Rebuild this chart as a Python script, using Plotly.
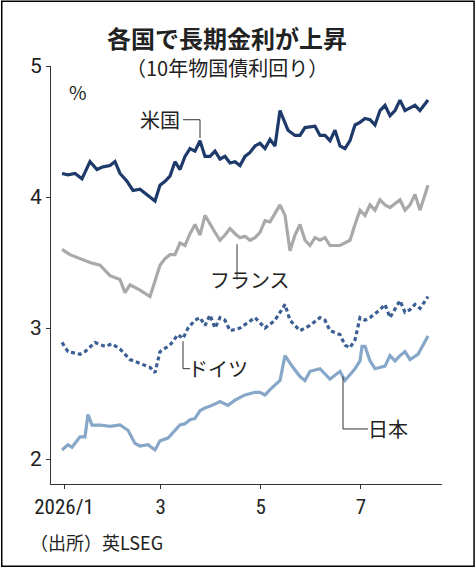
import plotly.graph_objects as go
import pandas as pd

# readings: horizontal position (chart px, 64 = 2026/1/1, ~1.64 px/day) and yield %
us_px = [62,68,75,82,90,97,103,110,115,120,127,133,140,147,152,155,160,165,170,175,180,185,190,195,200,205,210,215,220,225,230,235,240,245,250,255,260,265,270,275,280,283,288,295,300,305,315,320,325,330,335,340,345,350,355,360,365,370,375,380,385,390,395,400,405,410,415,420,428]
us_val = [4.18,4.17,4.18,4.14,4.27,4.21,4.23,4.24,4.27,4.18,4.12,4.05,4.06,4.02,3.99,3.97,4.09,4.12,4.16,4.27,4.21,4.31,4.37,4.35,4.43,4.31,4.31,4.35,4.29,4.31,4.26,4.27,4.24,4.31,4.34,4.39,4.41,4.37,4.44,4.39,4.66,4.60,4.51,4.47,4.47,4.53,4.54,4.47,4.47,4.43,4.51,4.39,4.37,4.43,4.55,4.57,4.60,4.59,4.55,4.66,4.70,4.62,4.66,4.74,4.66,4.68,4.70,4.66,4.74]

fr_px = [62,70,80,90,100,110,120,125,130,140,150,155,160,165,170,175,180,185,190,195,200,205,210,215,220,225,230,235,240,245,250,255,260,265,270,280,285,290,295,300,305,310,315,320,325,330,340,350,355,360,365,370,375,380,385,390,400,405,410,415,420,428]
fr_val = [3.60,3.56,3.53,3.50,3.48,3.40,3.37,3.27,3.33,3.29,3.24,3.37,3.48,3.53,3.56,3.56,3.65,3.63,3.72,3.79,3.71,3.86,3.79,3.73,3.67,3.71,3.76,3.72,3.69,3.70,3.67,3.69,3.73,3.82,3.81,3.94,3.86,3.59,3.71,3.79,3.67,3.63,3.69,3.67,3.69,3.63,3.63,3.67,3.79,3.90,3.86,3.94,3.90,3.98,3.94,3.92,3.98,3.90,3.94,4.02,3.90,4.09]

de_px = [62,68,80,85,95,105,112,120,130,140,150,155,160,170,178,183,188,195,200,205,210,215,220,225,230,240,255,265,275,285,290,300,310,320,325,330,340,345,350,355,360,365,370,380,385,390,395,400,405,410,415,420,428]
de_val = [2.89,2.82,2.80,2.82,2.89,2.86,2.88,2.84,2.76,2.73,2.70,2.66,2.82,2.87,2.95,2.92,3.00,3.06,3.08,3.02,3.10,3.00,3.08,3.06,2.98,3.00,3.08,3.00,3.06,3.18,3.06,2.98,3.02,3.08,3.06,2.98,2.95,2.87,2.85,2.91,3.08,3.06,3.08,3.14,3.18,3.08,3.15,3.21,3.12,3.14,3.18,3.15,3.24]

jp_px = [62,68,72,80,85,88,92,100,110,120,128,135,140,148,155,160,168,175,180,185,190,195,200,205,212,220,228,235,245,255,260,265,270,280,285,292,300,305,310,320,330,340,345,355,360,362,365,370,375,385,390,395,400,405,410,418,425,428]
jp_val = [2.07,2.11,2.09,2.17,2.17,2.34,2.26,2.26,2.25,2.26,2.22,2.12,2.10,2.11,2.07,2.14,2.16,2.22,2.26,2.27,2.30,2.31,2.37,2.39,2.41,2.44,2.41,2.45,2.49,2.51,2.51,2.49,2.53,2.60,2.79,2.71,2.63,2.60,2.67,2.69,2.61,2.67,2.60,2.69,2.75,2.86,2.86,2.75,2.69,2.71,2.79,2.75,2.79,2.82,2.76,2.80,2.90,2.94]

x_ticks = ["2026-01-01", "2026-03-01", "2026-05-01", "2026-07-01"]
x_ticktext = ["2026/1", "3", "5", "7"]
y_ticks = [2, 3, 4, 5]

start = pd.Timestamp("2026-01-01")
def to_dates(px):
    return [start + pd.Timedelta(days=(p - 64) / 1.64) for p in px]

def d(day):
    return start + pd.Timedelta(days=day)

FONT = "Noto Sans CJK JP"
fig = go.Figure()
fig.add_trace(go.Scatter(x=to_dates(jp_px), y=jp_val, mode="lines",
                         line=dict(color="#87a7c9", width=3.2)))
fig.add_trace(go.Scatter(x=to_dates(de_px), y=de_val, mode="lines",
                         line=dict(color="#3b5f93", width=3.2, dash="4px,3px")))
fig.add_trace(go.Scatter(x=to_dates(fr_px), y=fr_val, mode="lines",
                         line=dict(color="#a9a9a9", width=3.2)))
fig.add_trace(go.Scatter(x=to_dates(us_px), y=us_val, mode="lines",
                         line=dict(color="#1e3a6a", width=3.2)))

def px2day(p):
    return (p - 64) / 1.64

lc = dict(color="#333", width=1)
shapes = []
def seg(x0, y0, x1, y1):
    shapes.append(dict(type="line", xref="x", yref="y", x0=d(px2day(x0)), y0=y0,
                       x1=d(px2day(x1)), y1=y1, line=lc))
# leader lines
seg(183, 4.59, 200, 4.59); seg(200, 4.59, 200, 4.45)
seg(237, 3.37, 237, 3.64)
seg(183, 2.90, 183, 2.69); seg(183, 2.69, 190, 2.69)
seg(343, 2.63, 343, 2.23); seg(343, 2.23, 368, 2.23)
# border
shapes.append(dict(type="rect", xref="paper", yref="paper", x0=-0.126, x1=1.082,
                   y0=-0.197, y1=1.155, line=dict(color="black", width=1.5)))
fig.update_layout(shapes=shapes)

def ann(px, val, text, anchor="left", size=20):
    fig.add_annotation(x=d(px2day(px)), y=val, text=text, showarrow=False,
                       xanchor=anchor, font=dict(size=size, color="#222", family=FONT))
ann(182, 4.59, "米国", "right")
ann(208, 3.37, "フランス", "left")
ann(186, 2.69, "ドイツ", "left")
ann(366, 2.23, "日本", "left")

fig.add_annotation(xref="paper", yref="paper", x=0.04, y=0.975, text="%", showarrow=False,
                   xanchor="left", font=dict(size=19, color="#222", family=FONT))
fig.add_annotation(xref="paper", yref="paper", x=0.45, y=1.115, text="<b>各国で長期金利が上昇</b>",
                   showarrow=False, font=dict(size=24, color="#222", family=FONT))
fig.add_annotation(xref="paper", yref="paper", x=0.45, y=1.035, text="（10年物国債利回り）",
                   showarrow=False, font=dict(size=20, color="#222", family=FONT))
fig.add_annotation(xref="paper", yref="paper", x=-0.06, y=-0.175, text="（出所）英LSEG",
                   showarrow=False, xanchor="left", font=dict(size=18, color="#222", family=FONT))

fig.update_layout(
    width=476, height=568, margin=dict(l=51, r=34, t=66, b=84),
    paper_bgcolor="white", plot_bgcolor="white", showlegend=False,
    font=dict(family=FONT, color="#222"),
    xaxis=dict(type="date", range=[d(px2day(51)), d(px2day(442))], tickvals=x_ticks,
               ticktext=x_ticktext, showgrid=False, zeroline=False, showline=True,
               linecolor="#333", linewidth=1, ticks="outside", ticklen=4, tickcolor="#333",
               tickfont=dict(size=21, family="Roboto Condensed, Roboto")),
    yaxis=dict(range=[1.81, 5.0], tickvals=y_ticks, showgrid=False, zeroline=False,
               showline=True, linecolor="#333", linewidth=1, ticks="outside", ticklen=4,
               tickcolor="#333", tickfont=dict(size=21, family="Roboto")),
)
fig.write_html("out.html", config={"displayModeBar": False},
               post_script="document.body.style.margin='0';document.body.style.overflow='hidden';")
